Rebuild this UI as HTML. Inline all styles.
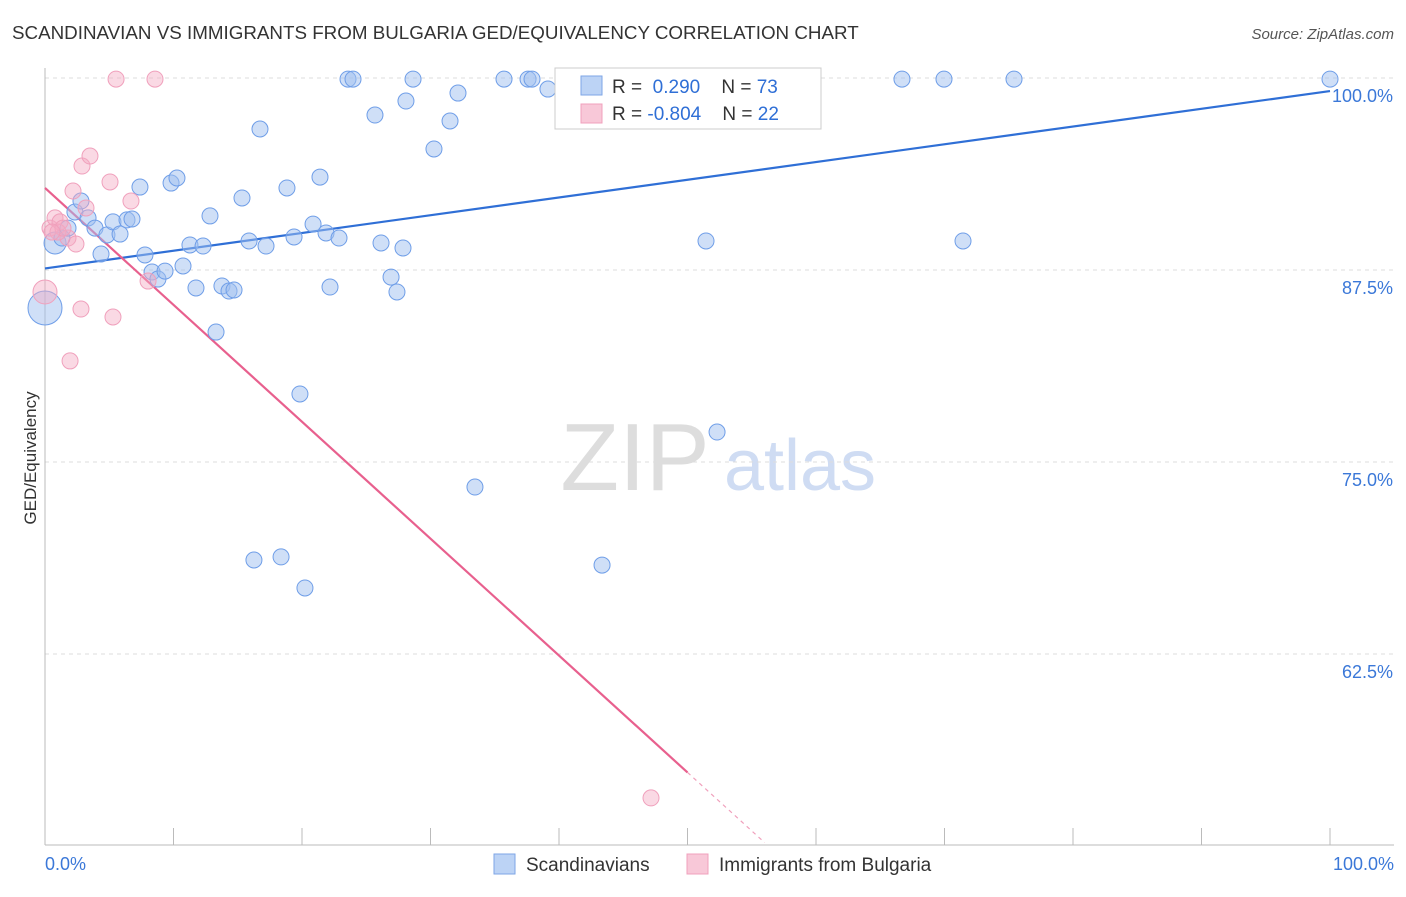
<!DOCTYPE html>
<html><head><meta charset="utf-8"><style>
body{margin:0;background:#fff;font-family:"Liberation Sans",sans-serif}
svg text{font-family:"Liberation Sans",sans-serif}
</style></head><body>
<svg id="c" width="1406" height="892">
<text x="12" y="39" font-size="18.8" fill="#333">SCANDINAVIAN VS IMMIGRANTS FROM BULGARIA GED/EQUIVALENCY CORRELATION CHART</text>
<text x="1394" y="39" font-size="15" fill="#555" text-anchor="end" font-style="italic">Source: ZipAtlas.com</text>
<text x="36" y="458" font-size="17" fill="#333" text-anchor="middle" transform="rotate(-90 36 458)">GED/Equivalency</text>
<g><text x="635" y="490" font-size="96" fill="#ddd" font-family="Liberation Serif" text-anchor="middle">ZIP</text><text x="800" y="490" font-size="72" fill="#cfdcf3" text-anchor="middle">atlas</text></g>
<g id="grid"></g><g id="axes"></g><g id="lines"></g><g id="pts"></g>
<g>
<rect x="555" y="68" width="266" height="61" fill="#fff" stroke="#ccc"/>
<rect x="581" y="76" width="21" height="19" fill="#bcd3f5" stroke="#7ea6e6"/>
<rect x="581" y="104" width="21" height="19" fill="#f8c8d8" stroke="#f0a0bc"/>
<text x="612" y="93" font-size="19" fill="#333">R = <tspan fill="#2f6fd6">&#160;0.290</tspan>&#160;&#160;&#160; N = <tspan fill="#2f6fd6">73</tspan></text>
<text x="612" y="120" font-size="19" fill="#333">R = <tspan fill="#2f6fd6">-0.804</tspan>&#160;&#160;&#160; N = <tspan fill="#2f6fd6">22</tspan></text>
</g>
<g>
<rect x="494" y="854" width="21" height="20" fill="#bcd3f5" stroke="#7ea6e6"/>
<text x="526" y="871" font-size="19" fill="#333">Scandinavians</text>
<rect x="687" y="854" width="21" height="20" fill="#f8c8d8" stroke="#f0a0bc"/>
<text x="719" y="871" font-size="19" fill="#333">Immigrants from Bulgaria</text>
</g>
</svg>
<script>
const yTicks=[100,87.5,75,62.5];
const yTickLabels=["100.0%","87.5%","75.0%","62.5%"];
const blueX=[0.78,1.32,1.79,2.33,2.80,3.35,3.89,4.36,4.82,5.29,5.84,6.38,6.77,7.39,7.78,8.33,8.79,9.34,9.81,10.27,10.74,11.28,11.75,12.30,12.84,13.31,13.77,14.32,14.71,15.33,15.88,16.26,16.73,17.20,18.37,18.83,19.38,19.84,20.23,20.86,21.40,21.87,22.18,22.88,23.58,23.97,25.68,26.15,26.93,27.39,27.86,28.09,28.64,30.27,31.52,32.14,33.46,35.72,37.59,37.90,39.14,42.02,43.35,47.08,48.48,51.44,52.30,66.69,69.96,71.44,75.41,100,0];
const blueY=[89.26,89.58,90.23,91.28,91.99,90.89,90.23,88.54,89.78,90.63,89.84,90.76,90.82,92.90,88.48,87.37,86.91,87.43,93.16,93.49,87.76,89.13,86.33,89.06,91.02,83.46,86.46,86.13,86.20,92.19,89.39,68.62,96.68,89.06,68.82,92.84,89.65,79.43,66.80,90.49,93.55,89.91,86.39,89.58,99.93,99.93,97.59,89.26,87.04,86.07,88.93,98.50,99.93,95.38,97.20,99.02,73.37,99.93,99.93,99.93,99.28,99.93,68.29,99.93,99.93,89.39,76.95,99.93,99.93,89.39,99.93,99.93,85.03];
const pinkX=[0,0.39,0.78,1.17,1.79,2.18,2.41,2.88,2.80,3.19,3.50,1.95,5.06,5.29,5.53,6.69,8.02,8.56,47.16,1.01,1.40,0.54];
const pinkY=[86.07,90.23,90.89,90.63,89.58,92.64,89.19,94.27,84.96,91.54,94.92,81.58,93.23,84.44,99.93,91.99,86.78,99.93,53.13,89.97,90.23,89.97];
const blueLine=[87.6,99.15];
const pinkLine=[92.84,-0.761];
const NS="http://www.w3.org/2000/svg";
const X=v=>45+v*12.85, Y=v=>78+(100-v)*15.36;
function mk(p,t,a){const e=document.createElementNS(NS,t);for(const k in a)e.setAttribute(k,a[k]);document.getElementById(p).appendChild(e);return e;}
yTicks.forEach((t,i)=>{
 const g=mk('grid','line',{x1:45,x2:1394,y1:Y(t),y2:Y(t),stroke:'#ddd','stroke-dasharray':'4,4'});
 
 
 const l=mk('grid','text',{x:1393,y:Y(t)+24,'font-size':18,fill:'#3b78d8','text-anchor':'end'});l.textContent=yTickLabels[i];
 
 
});
mk('axes','line',{x1:45,x2:45,y1:68,y2:845,stroke:'#bbb'});
mk('axes','line',{x1:45,x2:1394,y1:845,y2:845,stroke:'#bbb'});
for(let i=0;i<=10;i++){mk('axes','line',{x1:X(i*10),x2:X(i*10),y1:828,y2:845,stroke:'#bbb'});}
const x0=mk('axes','text',{x:45,y:870,'font-size':18,fill:'#3b78d8'});x0.textContent='0.0%';


const x1=mk('axes','text',{x:1394,y:870,'font-size':18,fill:'#3b78d8','text-anchor':'end'});x1.textContent='100.0%';


blueX.forEach((v,i)=>{const r=(i===0||i===blueX.length-1)?(i===0?11:17):8;
 const c=mk('pts','circle',{cx:X(v),cy:Y(blueY[i]),r:r,fill:'rgba(160,192,240,0.5)',stroke:'#6f9ee8','stroke-width':1});
 
 });
pinkX.forEach((v,i)=>{const r=i===0?12:8;
 const c=mk('pts','circle',{cx:X(v),cy:Y(pinkY[i]),r:r,fill:'rgba(245,170,196,0.45)',stroke:'#f0a0bc','stroke-width':1});
 
 });
const bl=mk('lines','line',{x1:X(0),y1:Y(blueLine[0]),x2:X(100),y2:Y(blueLine[1]),stroke:'#2f6fd6','stroke-width':2.2});


const pe=50, pd=56;
const pl=mk('lines','line',{x1:X(0),y1:Y(pinkLine[0]),x2:X(pe),y2:Y(pinkLine[0]+pinkLine[1]*pe),stroke:'#e8608e','stroke-width':2.2});


const pl2=mk('lines','line',{x1:X(pe),y1:Y(pinkLine[0]+pinkLine[1]*pe),x2:X(pd),y2:Y(pinkLine[0]+pinkLine[1]*pd),stroke:'#f0a0bc','stroke-width':1.2,'stroke-dasharray':'4,4'});


</script>
</body></html>
